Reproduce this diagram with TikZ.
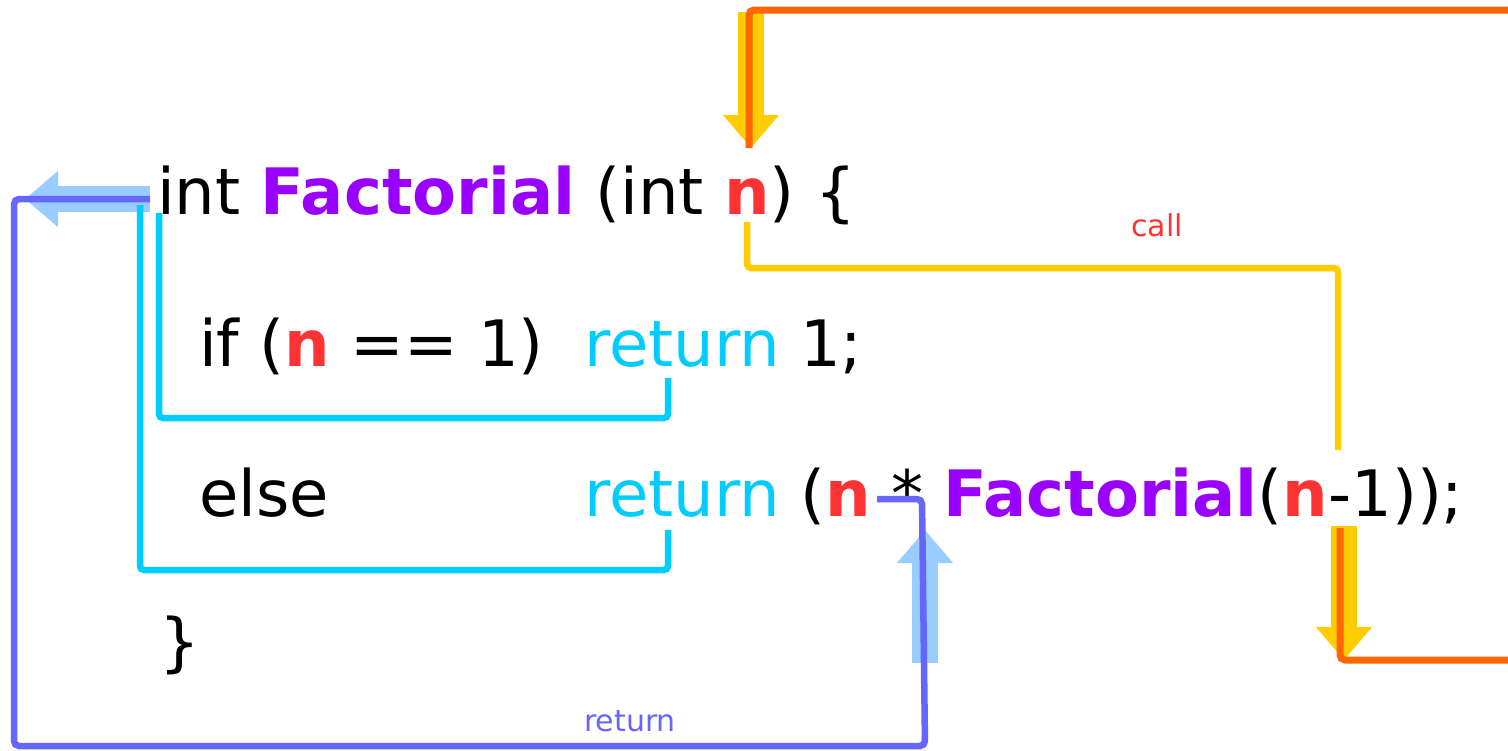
\documentclass[tikz,border=0pt]{standalone}
\usepackage{fontspec}
\setmainfont{DejaVu Sans}
\usetikzlibrary{arrows.meta}
\definecolor{fnpurple}{HTML}{9900FF}
\definecolor{argred}{HTML}{FF3333}
\definecolor{retcyan}{HTML}{00CCFF}
\definecolor{callorange}{HTML}{FF6600}
\definecolor{callyellow}{HTML}{FFCC00}
\definecolor{backblue}{HTML}{99CCFF}
\definecolor{retviolet}{HTML}{6666FF}
\newcommand{\fname}[1]{\textcolor{fnpurple}{\bfseries #1}}
\newcommand{\argn}{\textcolor{argred}{\bfseries n}}
\newcommand{\kwret}{\textcolor{retcyan}{return}}
\tikzset{
    codeline/.style={anchor=base west,inner sep=0pt,font=\fontsize{64}{64}\selectfont},
    flowlabel/.style={anchor=base,inner sep=0pt,font=\fontsize{30}{30}\selectfont},
    bigarrow/.style={line width=26pt,-{Triangle[width=54pt,length=33pt]}},
    callline/.style={callorange,line width=7pt,rounded corners=5pt},
    passline/.style={callyellow,line width=6.5pt,rounded corners=4pt},
    branchline/.style={retcyan,line width=6.5pt,rounded corners=4pt},
    backline/.style={retviolet,line width=6.5pt,rounded corners=5pt}
}
\begin{document}
\begin{tikzpicture}[x=1pt,y=-1pt]
    \useasboundingbox (0,0) rectangle (1508,750);
    % code
    \node[codeline] (head) at (157,214) {int \fname{Factorial} (int \argn) \{};
    \node[codeline] (test) at (199,366) {if (\argn{} == 1)};
    \node[codeline] (base) at (584,366) {\kwret{} 1;};
    \node[codeline] (other) at (199,516) {else};
    \node[codeline] (recur) at (584,516) {\kwret{} (\argn{} * \fname{Factorial}(\argn-1));};
    \node[codeline] (close) at (159,664) {\}};
    % labels
    \node[flowlabel,text=argred] (calltxt) at (1157,236) {call};
    \node[flowlabel,text=retviolet] (rettxt) at (630,731) {return};
    % path points
    \coordinate (topin) at (749,148);
    \coordinate (topcorner) at (749,10);
    \coordinate (topout) at (1515,10);
    \coordinate (nstart) at (747,222);
    \coordinate (ncorner) at (747,268);
    \coordinate (ncorner2) at (1338,268);
    \coordinate (nend) at (1338,450);
    \coordinate (botin) at (1340,528);
    \coordinate (botcorner) at (1340,660);
    \coordinate (botout) at (1515,660);
    \coordinate (baseA) at (159,213);
    \coordinate (baseB) at (159,418);
    \coordinate (baseC) at (668,418);
    \coordinate (baseD) at (668,378);
    \coordinate (elseA) at (140,205);
    \coordinate (elseB) at (140,570);
    \coordinate (elseC) at (668,570);
    \coordinate (elseD) at (668,530);
    \coordinate (retA) at (877,499);
    \coordinate (retB) at (922,499);
    \coordinate (retC) at (925,746);
    \coordinate (retD) at (14,746);
    \coordinate (retE) at (14,199);
    \coordinate (retF) at (150,199);
    % fat arrows
    \draw[bigarrow,callyellow] (751,12) -- (751,148);
    \draw[bigarrow,callyellow] (1344,526) -- (1344,660);
    \draw[bigarrow,backblue] (150,199) -- (25,199);
    \draw[bigarrow,backblue] (925,663) -- (925,530);
    % lines
    \draw[callline] (topin) -- (topcorner) -- (topout);
    \draw[callline] (botin) -- (botcorner) -- (botout);
    \draw[passline] (nstart) -- (ncorner) -- (ncorner2) -- (nend);
    \draw[backline] (retA) -- (retB) -- (retC) -- (retD) -- (retE) -- (retF);
    \draw[branchline] (baseA) -- (baseB) -- (baseC) -- (baseD);
    \draw[branchline] (elseA) -- (elseB) -- (elseC) -- (elseD);
\end{tikzpicture}
\end{document}
